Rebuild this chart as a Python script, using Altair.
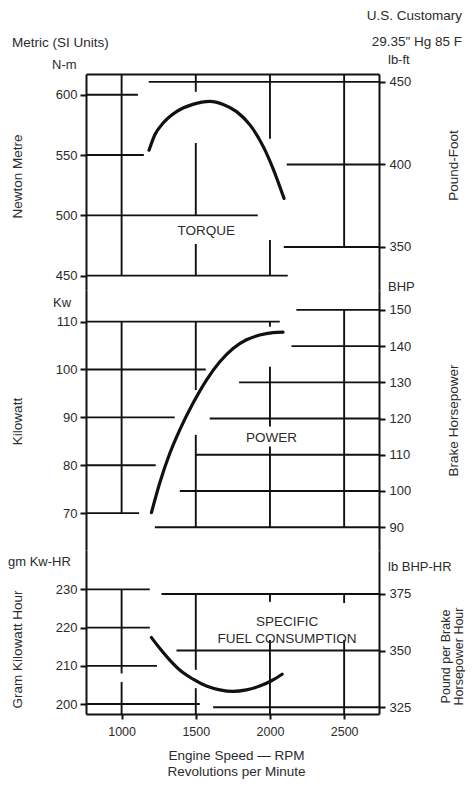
import altair as alt
import pandas as pd

FONT = "Liberation Sans"
INK = "#111111"
TXT = "#2b2b2b"

# ---------------- shared engine speed axis ----------------
X_DOMAIN = [760, 2735]
X_LO, X_HI = X_DOMAIN
RPM_TICKS = [1000, 1500, 2000, 2500]

# ---------------- torque ----------------
NM_DOMAIN = [438.1, 617.2]
LBFT_DOMAIN = [323.9, 454.8]
NM_TICKS = [450, 500, 550, 600]
LBFT_TICKS = [350, 400, 450]
TQ_RPM = [1185, 1225, 1280, 1370, 1480, 1595, 1685, 1775, 1865, 1955, 2020, 2095]
TQ_NM = [554, 567, 576.5, 586, 592, 594.5, 592, 586, 575, 557, 539, 514]
TQ_H_NM = [(600, X_LO, 1110), (550, X_LO, 1150), (500, X_LO, 1918), (450, X_LO, 2120)]
TQ_H_LBFT = [(450, 1183, X_HI), (400, 2113, X_HI), (350, 2093, X_HI)]
TQ_V_NM = [(1000, 450, 617.2), (1500, 500, 560), (1500, 450, 476.3),
           (2000, 563.5, 617.2), (2000, 450, 479.6)]
TQ_V_LBFT = [(1500, 444, 454.8), (2500, 350, 454.8)]
TQ_NOTES = [("TORQUE", 1570, 487.3)]

# ---------------- power ----------------
KW_DOMAIN = [62.3, 116.6]
BHP_DOMAIN = [83.7, 155.5]
KW_TICKS = [70, 80, 90, 100, 110]
BHP_TICKS = [90, 100, 110, 120, 130, 140, 150]
PW_RPM = [1201, 1257, 1325, 1392, 1482, 1572, 1662, 1751, 1842, 1931, 2021, 2088]
PW_KW = [70.1, 76.3, 82.5, 87.4, 93.0, 97.8, 101.6, 104.4, 106.2, 107.2, 107.7, 107.8]
PW_H_KW = [(110, X_LO, 2066), (100, X_LO, 1567), (90, X_LO, 1358), (80, X_LO, 1230), (70, X_LO, 1118)]
PW_H_BHP = [(150, 2178, X_HI), (140, 2145, X_HI), (130, 1792, X_HI), (120, 1594, X_HI),
            (110, 1500, X_HI), (100, 1392, X_HI), (90, 1224, X_HI)]
PW_V_KW = [(1000, 70, 110), (1500, 95.7, 110), (2000, 108.9, 110)]
PW_V_BHP = [(1500, 90, 115.5), (2000, 117.8, 134.3), (2000, 90, 112.3), (2500, 90, 150)]
PW_NOTES = [("POWER", 2010, 114.6)]

# ---------------- specific fuel consumption ----------------
G_DOMAIN = [197.4, 240.3]
LB_DOMAIN = [322.0, 394.4]
G_TICKS = [200, 210, 220, 230]
LB_TICKS = [325, 350, 375]
SF_RPM = [1201, 1257, 1325, 1392, 1482, 1572, 1662, 1751, 1842, 1931, 2010, 2082]
SF_G = [217.4, 214.6, 211.5, 208.9, 206.5, 204.7, 203.7, 203.3, 203.7, 204.7, 206.1, 207.8]
SF_H_G = [(230, X_LO, 1190), (220, X_LO, 1190), (210, X_LO, 1239), (200, X_LO, 1527)]
SF_H_LB = [(375, 1269, X_HI), (350, 1370, X_HI), (325, 1617, X_HI)]
SF_V_G = [(1000, 208.0, 230), (1000, 197.4, 205.8)]
SF_V_LB = [(1500, 341.5, 375), (1500, 322.0, 333.4), (2000, 371.6, 375), (2000, 322.0, 354.7),
           (2500, 371.0, 375), (2500, 322.0, 354.7)]
SF_NOTES = [("SPECIFIC", 2115, 362.6), ("FUEL CONSUMPTION", 2115, 354.9)]

W = 293
H_TQ, H_PW, H_SF = 216, 260, 164


def xenc(field, axis):
    return alt.X(f"{field}:Q", scale=alt.Scale(domain=X_DOMAIN, nice=False, zero=False), axis=axis)


def side(dom, yaxis, xaxis, curve=None, h=None, v=None, notes=None):
    y = alt.Y("v:Q", scale=alt.Scale(domain=dom, nice=False, zero=False), axis=yaxis)
    layers = []
    if h:
        df = pd.DataFrame(h, columns=["v", "x", "x2"])
        layers.append(alt.Chart(df).mark_rule(color=INK, strokeWidth=1.9).encode(
            x=xenc("x", xaxis), x2="x2:Q", y=y))
    if v:
        df = pd.DataFrame(v, columns=["x", "v", "v2"])
        layers.append(alt.Chart(df).mark_rule(color=INK, strokeWidth=1.9).encode(
            x=xenc("x", xaxis), y=y, y2="v2:Q"))
    if curve:
        df = pd.DataFrame({"x": curve[0], "v": curve[1]})
        layers.append(alt.Chart(df).mark_line(color=INK, strokeWidth=3.2, interpolate="monotone",
                                              strokeCap="round").encode(x=xenc("x", xaxis), y=y))
    if notes:
        df = pd.DataFrame(notes, columns=["t", "x", "v"])
        layers.append(alt.Chart(df).mark_text(font=FONT, fontSize=13.5, color=TXT).encode(
            x=xenc("x", xaxis), y=y, text="t:N"))
    return alt.layer(*layers)


def label(text, px, py, align="left", size=13):
    return alt.Chart(pd.DataFrame({"t": [text]})).mark_text(
        font=FONT, fontSize=size, color=TXT, align=align, baseline="middle").encode(
        x=alt.value(px), y=alt.value(py), text="t:N")


def left_axis(values, title, ty):
    return alt.Axis(orient="left", values=values, tickSize=6, labelPadding=3, title=title,
                    titleAngle=270, titleX=-69, titleY=ty, titleAlign="center",
                    titleBaseline="middle", format="d")


def right_axis(values, title, ty, tx=74, size=13.5):
    return alt.Axis(orient="right", values=values, tickSize=6, labelPadding=4, title=title,
                    titleAngle=270, titleX=tx, titleY=ty, titleAlign="center",
                    titleBaseline="middle", format="d", titleLineHeight=13, titleFontSize=size)


top_x = alt.Axis(orient="top", labels=False, ticks=False, title=None, domain=True)
bottom_x = alt.Axis(orient="bottom", values=RPM_TICKS, tickSize=5, labelPadding=6,
                    labelFontSize=12.5, format="d",
                    title=["Engine Speed \u2014 RPM", "Revolutions per Minute"],
                    titlePadding=11, titleLineHeight=16, titleX=150)

torque = alt.layer(
    side(NM_DOMAIN, left_axis(NM_TICKS, "Newton Metre", 102), top_x,
         curve=(TQ_RPM, TQ_NM), h=TQ_H_NM, v=TQ_V_NM, notes=TQ_NOTES),
    side(LBFT_DOMAIN, right_axis(LBFT_TICKS, "Pound-Foot", 91), top_x,
         h=TQ_H_LBFT, v=TQ_V_LBFT),
    label("N-m", -34, -9),
    label("lb-ft", 302, -14),
    label("Metric (SI Units)", -74, -31, size=13.5),
    label("U.S. Customary", 376, -58, align="right", size=13.5),
    label("29.35\" Hg  85 F", 376, -32, align="right", size=13.5),
).resolve_scale(y="independent").properties(width=W, height=H_TQ)

power = alt.layer(
    side(KW_DOMAIN, left_axis(KW_TICKS, "Kilowatt", 131), None,
         curve=(PW_RPM, PW_KW), h=PW_H_KW, v=PW_V_KW),
    side(BHP_DOMAIN, right_axis(BHP_TICKS, "Brake Horsepower", 130), None,
         h=PW_H_BHP, v=PW_V_BHP, notes=PW_NOTES),
    label("Kw", -33, 13),
    label("BHP", 302, -3),
).resolve_scale(y="independent").properties(width=W, height=H_PW)

sfc = alt.layer(
    side(G_DOMAIN, left_axis(G_TICKS, "Gram Kilowatt Hour", 99), bottom_x,
         curve=(SF_RPM, SF_G), h=SF_H_G, v=SF_V_G),
    side(LB_DOMAIN, right_axis(LB_TICKS, ["Pound per Brake", "Horsepower Hour"], 106,
                               tx=66, size=12.5), bottom_x,
         h=SF_H_LB, v=SF_V_LB, notes=SF_NOTES),
    label("gm Kw-HR", -78, 12),
    label("lb BHP-HR", 302, 17),
).resolve_scale(y="independent").properties(width=W, height=H_SF)

chart = alt.vconcat(torque, power, sfc, spacing=0, bounds="flush").properties(
    padding={"left": 0, "top": 1, "right": 0, "bottom": 4}
).configure_view(stroke=None).configure_axis(
    labelFont=FONT, titleFont=FONT, labelFontSize=13, titleFontSize=13.5,
    labelColor=TXT, titleColor=TXT, titleFontWeight="normal",
    domainColor=INK, tickColor=INK, domainWidth=2, tickWidth=2, grid=False
)

chart.save("out.html", embed_options={"renderer": "svg", "actions": False})
